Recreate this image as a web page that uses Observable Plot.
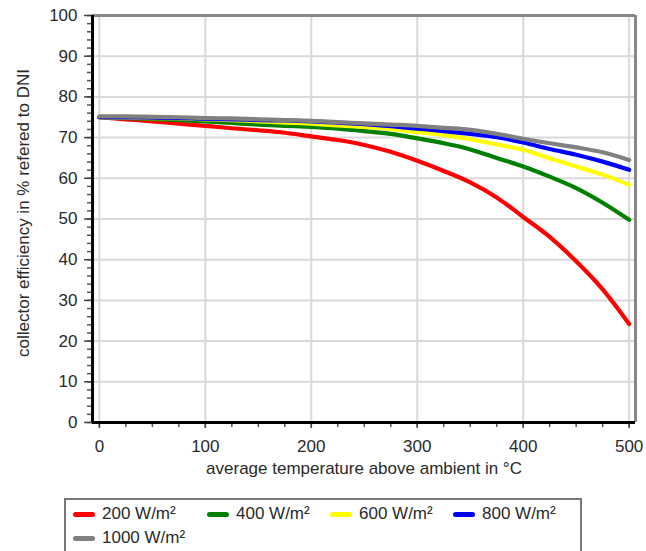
<!DOCTYPE html>
<html>
<head>
<meta charset="utf-8">
<script src="https://cdn.jsdelivr.net/npm/d3@7"></script>
<script src="https://cdn.jsdelivr.net/npm/@observablehq/plot@0.6"></script>
<style>
  body { margin: 0; background: #fff; font-family: "Liberation Sans", Arial, sans-serif; }
  #chart { position: relative; width: 646px; height: 551px; overflow: hidden; }
  .legend { position: absolute; left: 64px; top: 498px; height: 80px;
            border: 2px solid #777; background: #fff; display: flex; flex-wrap: wrap;
            align-content: flex-start; padding: 2px 0 0 7px; box-sizing: border-box; width: 518px; }
  .item { display: flex; align-items: center; height: 24px; width: 123px; font-size: 17px; color: #2a2a2a; white-space: nowrap; }
  .item:first-child { width: 134px; }
  .item:nth-child(5) { width: 134px; }
  .sw { width: 22px; height: 5px; border-radius: 3px; margin-right: 7px; flex: none; }
</style>
</head>
<body>
<div id="chart"></div>
<script>
// temperatures above ambient (°C)
const temps = [0, 25, 50, 75, 100, 125, 150, 175, 200, 225, 250, 275, 300, 325, 350, 375, 400, 425, 450, 475, 500];
// collector efficiency (%) per DNI level
const eff200  = [75, 74.5, 74, 73.4, 72.9, 72.3, 71.8, 71.2, 70.3, 69.4, 68.2, 66.5, 64.3, 61.8, 59, 55.3, 50.5, 45.6, 39.6, 32.7, 24.2];
const eff400  = [75, 74.8, 74.6, 74.3, 74, 73.6, 73.2, 72.9, 72.6, 72.2, 71.6, 70.9, 69.8, 68.6, 67.1, 65, 62.9, 60.4, 57.6, 54, 49.8];
const eff600  = [75, 74.9, 74.8, 74.7, 74.5, 74.3, 74, 73.7, 73.4, 73, 72.6, 72.1, 71.4, 70.6, 69.6, 68.3, 67, 64.9, 62.9, 60.9, 58.4];
const eff800  = [75, 74.95, 74.9, 74.8, 74.6, 74.5, 74.3, 74.2, 74, 73.7, 73.3, 72.8, 72.2, 71.6, 70.9, 70.1, 68.8, 67.2, 65.8, 64.1, 62.1];
const eff1000 = [75.2, 75.2, 75.1, 75, 74.8, 74.7, 74.5, 74.3, 74.1, 73.8, 73.5, 73.2, 72.9, 72.4, 71.9, 70.9, 69.7, 68.6, 67.6, 66.4, 64.5];

const seriesLabels = ["200 W/m²", "400 W/m²", "600 W/m²", "800 W/m²", "1000 W/m²"];
const seriesColors = ["#ff0000", "#008000", "#ffff00", "#0000ff", "#808080"];
const seriesValues = [eff200, eff400, eff600, eff800, eff1000];

const xTicks = [0, 100, 200, 300, 400, 500];
const xMinorTicks = d3.range(0, 501, 25);
const yTicks = [0, 10, 20, 30, 40, 50, 60, 70, 80, 90, 100];
const yMinorTicks = d3.range(0, 101, 2);
const xDomain = [-6.5, 506];
const yDomain = [0, 100];
const xTitle = "average temperature above ambient in °C";
const yTitle = "collector efficiency in % refered to DNI";

const rows = [];
seriesValues.forEach((vals, i) => {
  vals.forEach((v, j) => rows.push({t: temps[j], eff: v, series: seriesLabels[i]}));
});

const plot = Plot.plot({
  width: 646,
  height: 498,
  marginTop: 15,
  marginBottom: 76,
  marginLeft: 92,
  marginRight: 11,
  style: {fontFamily: "'Liberation Sans', Arial, sans-serif", fontSize: "17px", color: "#2a2a2a", background: "#fff"},
  x: {domain: xDomain, label: null},
  y: {domain: yDomain, label: null},
  color: {domain: seriesLabels, range: seriesColors},
  marks: [
    Plot.gridY(yTicks, {stroke: "#d9d9d9", strokeOpacity: 1, strokeWidth: 2}),
    Plot.gridX(xTicks, {stroke: "#d9d9d9", strokeOpacity: 1, strokeWidth: 2}),
    Plot.ruleY([yDomain[1]], {stroke: "#888", strokeWidth: 3}),
    Plot.ruleX([xDomain[1]], {stroke: "#888", strokeWidth: 3}),
    Plot.line(rows, {x: "t", y: "eff", stroke: "series", z: "series", strokeWidth: 4.2, strokeLinejoin: "round", strokeLinecap: "round", curve: "monotone-x"}),
    Plot.axisY(yMinorTicks, {tickSize: 5, tickFormat: () => "", stroke: "#555", strokeWidth: 1.5, label: null}),
    Plot.axisY(yTicks, {tickSize: 8, tickPadding: 7, stroke: "#444", strokeWidth: 1.5, fontSize: 17, label: null}),
    Plot.axisX(xMinorTicks, {tickSize: 5, tickFormat: () => "", stroke: "#555", strokeWidth: 1.5, label: null}),
    Plot.axisX(xTicks, {tickSize: 6, tickPadding: 11, stroke: "#444", strokeWidth: 1.5, fontSize: 17, label: null}),
    Plot.ruleX([xDomain[0]], {stroke: "#000", strokeWidth: 3}),
    Plot.ruleY([yDomain[0]], {stroke: "#000", strokeWidth: 3}),
    Plot.text([xTitle], {text: d => d, frameAnchor: "bottom", lineAnchor: "middle", textAnchor: "middle", dy: 46, fontSize: 17, fill: "#2a2a2a"}),
    Plot.text([yTitle], {text: d => d, frameAnchor: "left", lineAnchor: "middle", textAnchor: "middle", rotate: -90, dx: -68.5, dy: -6, fontSize: 17, fill: "#2a2a2a"})
  ]
});

const chart = document.getElementById("chart");
chart.appendChild(plot);

const legend = document.createElement("div");
legend.className = "legend";
seriesLabels.forEach((lab, i) => {
  const it = document.createElement("div");
  it.className = "item";
  const sw = document.createElement("span");
  sw.className = "sw";
  sw.style.background = seriesColors[i];
  const tx = document.createElement("span");
  tx.textContent = lab;
  it.appendChild(sw);
  it.appendChild(tx);
  legend.appendChild(it);
});
chart.appendChild(legend);
</script>
</body>
</html>
